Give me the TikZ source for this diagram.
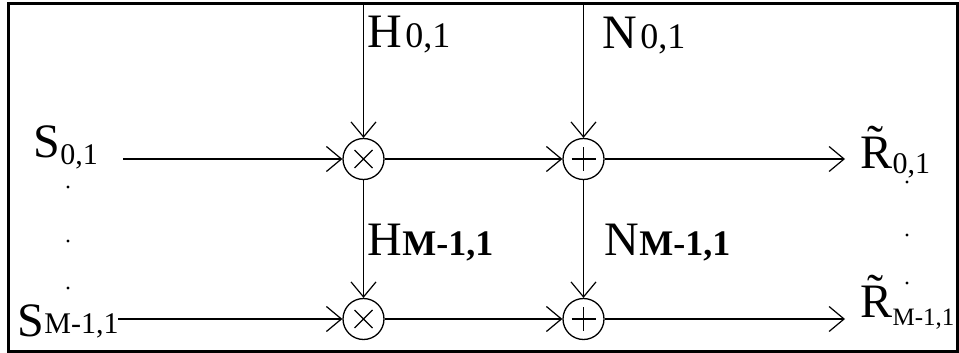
\documentclass[tikz,border=0pt]{standalone}
\usepackage{fontspec}
\setmainfont{Liberation Serif}
\usetikzlibrary{arrows.meta}
\newcommand\mainsz{\fontsize{48}{50}\selectfont}
\newcommand\subsz{\fontsize{36}{38}\selectfont}
\newcommand\lowsz{\fontsize{30}{32}\selectfont}
\begin{document}
\begin{tikzpicture}[x=1pt,y=-1pt,line width=1.3pt,
  every node/.style={inner sep=0pt,font=\mainsz},
  lbl/.style={anchor=base west},
  op/.style={circle,draw,minimum size=41pt},
  mult/.style={op,path picture={\draw[line width=1.1pt] (path picture bounding box.center) +(-9,-9) -- +(9,9) +(-9,9) -- +(9,-9);}},
  summ/.style={op,path picture={\draw[line width=1.1pt] (path picture bounding box.center) +(-12,0) -- +(12,0) +(0,-12) -- +(0,12);}},
  arr/.style={-{Straight Barb[length=15pt,width=25pt,line width=1.2pt]}}]
\useasboundingbox (0,0) rectangle (959,353);
\begin{scope}
\clip (8,4) rectangle (957.5,351);
% labels
\node[lbl] (hA) at (367,48) {H\hspace{3pt}{\subsz 0,1}};
\node[lbl] (nA) at (602,49) {N\hspace{3pt}{\subsz 0,1}};
\node[lbl] (hB) at (367,255) {H{\subsz\bfseries M-1,1}};
\node[lbl] (nB) at (604,255) {N{\subsz\bfseries M-1,1}};
\node[lbl] (sA) at (33,157) {S\raisebox{-8pt}{\lowsz 0,1}};
\node[lbl] (sB) at (17,336) {S\raisebox{3pt}{\lowsz M-1,1}};
\node[lbl] (rA) at (860,168) {\~{R}\raisebox{-5pt}{\lowsz 0,1}};
\node[lbl] (rB) at (860,317) {\~{R}\raisebox{-8pt}{\fontsize{25}{27}\selectfont M-1,1}};
\end{scope}
\draw[line width=3pt] (8,4) rectangle (957.5,351);
% multipliers and adders
\node[mult] (mulA) at (363.5,159) {};
\node[summ] (addA) at (583.5,159) {};
\node[mult] (mulB) at (363.5,319) {};
\node[summ] (addB) at (583.5,319) {};
% free ends
\coordinate (hin) at (363.5,5.5);
\coordinate (nin) at (583.5,5.5);
\coordinate (sinA) at (123,159);
\coordinate (sinB) at (118,319);
\coordinate (routA) at (845,159);
\coordinate (routB) at (845,319);
\draw[arr] (hin) -- (mulA);
\draw[arr] (nin) -- (addA);
\draw[arr] (mulA) -- (mulB);
\draw[arr] (addA) -- (addB);
\draw[arr] (sinA) -- (mulA);
\draw[arr] (mulA) -- (addA);
\draw[arr] (addA) -- (routA);
\draw[arr] (sinB) -- (mulB);
\draw[arr] (mulB) -- (addB);
\draw[arr] (addB) -- (routB);
% vertical dots
\foreach \y in {187,241,288} \fill (68,\y) circle (1.7);
\foreach \y in {182,235,283} \fill (907,\y) circle (1.7);
\end{tikzpicture}
\end{document}
